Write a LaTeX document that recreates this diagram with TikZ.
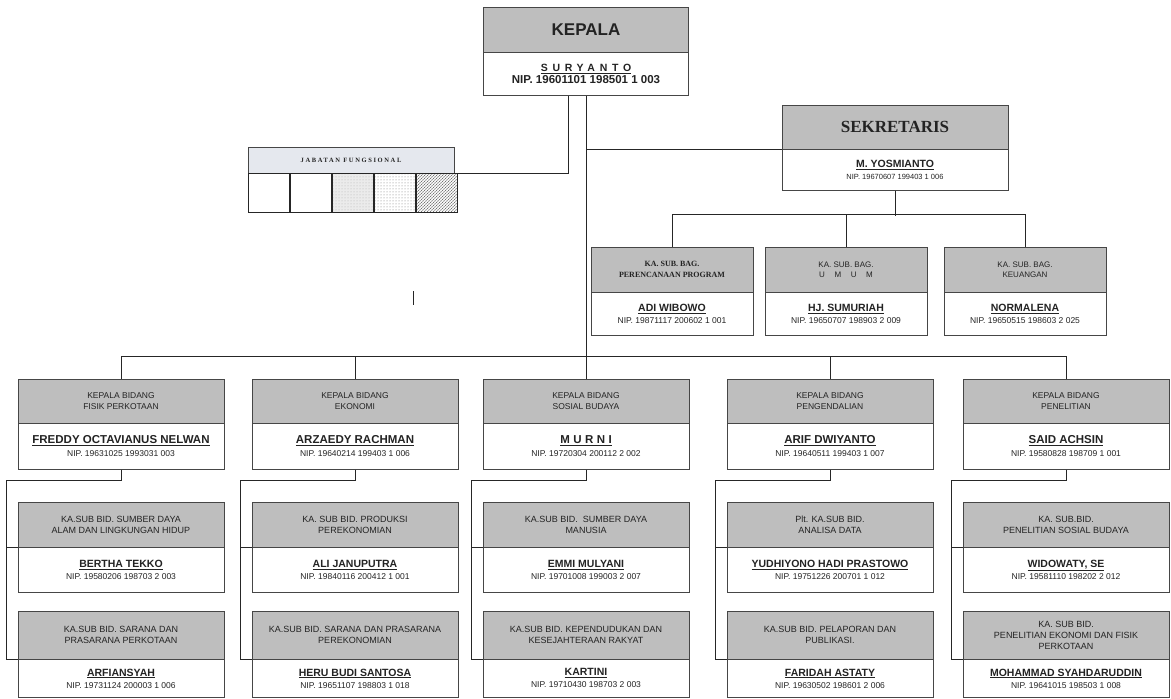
\documentclass[tikz,border=0pt]{standalone}
\usepackage{fontspec}
\setmainfont{Liberation Sans}
\newfontfamily\timesfont{Liberation Serif}
\usetikzlibrary{positioning,patterns}

\definecolor{headgray}{RGB}{190,190,190}
\definecolor{jabgray}{RGB}{229,232,238}
\definecolor{boxline}{RGB}{70,70,70}
\definecolor{inkgray}{RGB}{35,35,35}
\newcommand{\nipfont}{\mdseries\fontsize{8.5}{10}\selectfont}

\begin{document}
\begin{tikzpicture}[x=1pt, y=-1pt, every node/.style={text=inkgray}]

    % Styles
    \tikzstyle{kepalahead} = [rectangle, minimum width=205pt, minimum height=45pt, inner sep=0pt, align=center, draw=boxline, fill=headgray, font=\bfseries\fontsize{17}{20}\selectfont]
    \tikzstyle{kepalabody} = [rectangle, minimum width=205pt, minimum height=43pt, inner sep=0pt, align=center, draw=boxline, fill=white, font=\bfseries\fontsize{10.5}{12.5}\selectfont]
    \tikzstyle{sekhead} = [rectangle, minimum width=226pt, minimum height=44pt, inner sep=0pt, align=center, draw=boxline, fill=headgray, font=\timesfont\bfseries\fontsize{17}{20}\selectfont]
    \tikzstyle{sekbody} = [rectangle, minimum width=226pt, minimum height=41pt, inner sep=0pt, align=center, draw=boxline, fill=white, font=\bfseries\fontsize{10.5}{12}\selectfont]
    \tikzstyle{baghead} = [rectangle, minimum width=162pt, minimum height=45pt, inner sep=0pt, align=center, draw=boxline, fill=headgray, font=\fontsize{8}{10.5}\selectfont]
    \tikzstyle{bagbody} = [rectangle, minimum width=162pt, minimum height=43pt, inner sep=0pt, align=center, draw=boxline, fill=white, font=\bfseries\fontsize{10.5}{12}\selectfont]
    \tikzstyle{bidhead} = [rectangle, minimum width=206pt, minimum height=44pt, inner sep=0pt, align=center, draw=boxline, fill=headgray, font=\fontsize{8.5}{10.5}\selectfont]
    \tikzstyle{bidbody} = [rectangle, minimum width=206pt, minimum height=46pt, inner sep=0pt, align=center, draw=boxline, fill=white, font=\bfseries\fontsize{11.5}{13}\selectfont]
    \tikzstyle{subhead} = [rectangle, minimum width=206pt, minimum height=45pt, inner sep=0pt, align=center, draw=boxline, fill=headgray, font=\fontsize{9}{11}\selectfont]
    \tikzstyle{subbody} = [rectangle, minimum width=206pt, minimum height=45pt, inner sep=0pt, align=center, draw=boxline, fill=white, font=\bfseries\fontsize{10.5}{12}\selectfont]
    \tikzstyle{jabhead} = [rectangle, minimum width=206pt, minimum height=26pt, inner sep=0pt, draw=boxline, fill=jabgray, font=\timesfont\bfseries\fontsize{6.5}{7.5}\selectfont]
    \tikzstyle{cell} = [rectangle, minimum width=41.2pt, minimum height=39pt, inner sep=0pt, draw=black!85, line width=0.9pt]
    \tikzstyle{link} = [draw=black!85, line width=0.9pt]

    \useasboundingbox (0,0) rectangle (1171,699);

    % Kepala and Sekretaris
    \node (kepalaH) [kepalahead] at (586,29.5) {KEPALA};
    \node (kepala) [kepalabody, below=0pt of kepalaH] {\underline{\addfontfeatures{LetterSpace=45}SURYANTO}\\ \fontsize{11.5}{13}\selectfont NIP. 19601101 198501 1 003};
    \node (sekH) [sekhead] at (895,127) {SEKRETARIS};
    \node (sekretaris) [sekbody, below=0pt of sekH] {\underline{M. YOSMIANTO}\\ \mdseries\fontsize{7.5}{9}\selectfont NIP. 19670607 199403 1 006};

    % Jabatan fungsional
    \node (jabH) [jabhead] at (351,160) {\addfontfeatures{LetterSpace=25}JABATAN FUNGSIONAL};
    \node (cell1) [cell, anchor=north west] at (jabH.south west) {};
    \node (cell2) [cell, right=0pt of cell1] {};
    \node (cell3) [cell, right=0pt of cell2, preaction={fill=black!8}, pattern=dots, pattern color=black!30] {};
    \node (cell4) [cell, right=0pt of cell3, pattern=dots, pattern color=black!55] {};
    \node (cell5) [cell, right=0pt of cell4, preaction={pattern=north east lines, pattern color=black!35}, pattern=crosshatch dots, pattern color=black!60] {};

    % Sub bagian
    \node (bag1H) [baghead] at (672,269.5) {\timesfont\bfseries KA. SUB. BAG.\\ \timesfont\bfseries PERENCANAAN PROGRAM};
    \node (bag1) [bagbody, below=0pt of bag1H] {\underline{ADI WIBOWO}\\ \nipfont NIP. 19871117 200602 1 001};
    \node (bag2H) [baghead] at (846,269.5) {KA. SUB. BAG.\\ \addfontfeatures{LetterSpace=120}UMUM};
    \node (bag2) [bagbody, below=0pt of bag2H] {\underline{HJ. SUMURIAH}\\ \nipfont NIP. 19650707 198903 2 009};
    \node (bag3H) [baghead] at (1025,269.5) {KA. SUB. BAG.\\ KEUANGAN};
    \node (bag3) [bagbody, below=0pt of bag3H] {\underline{NORMALENA}\\ \nipfont NIP. 19650515 198603 2 025};

    % Kepala bidang
    \node (bid1H) [bidhead] at (121,401) {KEPALA BIDANG\\ FISIK PERKOTAAN};
    \node (bid1) [bidbody, below=0pt of bid1H] {\underline{FREDDY OCTAVIANUS NELWAN}\\ \nipfont NIP. 19631025 1993031 003};
    \node (bid2H) [bidhead] at (355,401) {KEPALA BIDANG\\ EKONOMI};
    \node (bid2) [bidbody, below=0pt of bid2H] {\underline{ARZAEDY RACHMAN}\\ \nipfont NIP. 19640214 199403 1 006};
    \node (bid3H) [bidhead] at (586,401) {KEPALA BIDANG\\ SOSIAL BUDAYA};
    \node (bid3) [bidbody, below=0pt of bid3H] {\underline{\addfontfeatures{LetterSpace=30}MURNI}\\ \nipfont NIP. 19720304 200112 2 002};
    \node (bid4H) [bidhead] at (830,401) {KEPALA BIDANG\\ PENGENDALIAN};
    \node (bid4) [bidbody, below=0pt of bid4H] {\underline{ARIF DWIYANTO}\\ \nipfont NIP. 19640511 199403 1 007};
    \node (bid5H) [bidhead] at (1066,401) {KEPALA BIDANG\\ PENELITIAN};
    \node (bid5) [bidbody, below=0pt of bid5H] {\underline{SAID ACHSIN}\\ \nipfont NIP. 19580828 198709 1 001};

    % Sub bidang, first row
    \node (sub11H) [subhead] at (121,524.5) {KA.SUB BID. SUMBER DAYA\\ ALAM DAN LINGKUNGAN HIDUP};
    \node (sub11) [subbody, below=0pt of sub11H] {\underline{BERTHA TEKKO}\\ \nipfont NIP. 19580206 198703 2 003};
    \node (sub21H) [subhead] at (355,524.5) {KA. SUB BID. PRODUKSI\\ PEREKONOMIAN};
    \node (sub21) [subbody, below=0pt of sub21H] {\underline{ALI JANUPUTRA}\\ \nipfont NIP. 19840116 200412 1 001};
    \node (sub31H) [subhead] at (586,524.5) {KA.SUB BID.\ \ SUMBER DAYA\\ MANUSIA};
    \node (sub31) [subbody, below=0pt of sub31H] {\underline{EMMI MULYANI}\\ \nipfont NIP. 19701008 199003 2 007};
    \node (sub41H) [subhead] at (830,524.5) {Plt. KA.SUB BID.\\ ANALISA DATA};
    \node (sub41) [subbody, below=0pt of sub41H] {\underline{YUDHIYONO HADI PRASTOWO}\\ \nipfont NIP. 19751226 200701 1 012};
    \node (sub51H) [subhead] at (1066,524.5) {KA. SUB.BID.\\ PENELITIAN SOSIAL BUDAYA};
    \node (sub51) [subbody, below=0pt of sub51H] {\underline{WIDOWATY, SE}\\ \nipfont NIP. 19581110 198202 2 012};

    % Sub bidang, second row
    \node (sub12H) [subhead, minimum height=48pt] at (121,635) {KA.SUB BID. SARANA DAN\\ PRASARANA PERKOTAAN};
    \node (sub12) [subbody, minimum height=38pt, below=0pt of sub12H] {\underline{ARFIANSYAH}\\ \nipfont NIP. 19731124 200003 1 006};
    \node (sub22H) [subhead, minimum height=48pt] at (355,635) {KA.SUB BID. SARANA DAN PRASARANA\\ PEREKONOMIAN};
    \node (sub22) [subbody, minimum height=38pt, below=0pt of sub22H] {\underline{HERU BUDI SANTOSA}\\ \nipfont NIP. 19651107 198803 1 018};
    \node (sub32H) [subhead, minimum height=48pt] at (586,635) {KA.SUB BID. KEPENDUDUKAN DAN\\ KESEJAHTERAAN RAKYAT};
    \node (sub32) [subbody, minimum height=38pt, below=0pt of sub32H] {\underline{KARTINI}\\ \nipfont NIP. 19710430 198703 2 003};
    \node (sub42H) [subhead, minimum height=48pt] at (830,635) {KA.SUB BID. PELAPORAN DAN\\ PUBLIKASI.};
    \node (sub42) [subbody, minimum height=38pt, below=0pt of sub42H] {\underline{FARIDAH ASTATY}\\ \nipfont NIP. 19630502 198601 2 006};
    \node (sub52H) [subhead, minimum height=48pt] at (1066,635) {KA. SUB BID.\\ PENELITIAN EKONOMI DAN FISIK\\ PERKOTAAN};
    \node (sub52) [subbody, minimum height=38pt, below=0pt of sub52H] {\underline{MOHAMMAD SYAHDARUDDIN}\\ \nipfont NIP. 19641015 198503 1 008};

    % Connectors
    \draw [link] (kepala.south) -- (bid3H.north);
    \draw [link] (jabH.south east) -| ([xshift=-18pt]kepala.south);
    \draw [link] (sekretaris.north west) -- (sekretaris.north west -| kepala.south);
    \draw [link] (sekretaris.south) -- ++(0,25);
    \draw [link] (bag1H.north) -- ++(0,-32) -| (bag3H.north);
    \draw [link] (bag2H.north) -- ++(0,-32);
    \draw [link] (bid1H.north) -- ++(0,-22) -| (bid5H.north);
    \draw [link] (bid2H.north) -- ++(0,-22);
    \draw [link] (bid4H.north) -- ++(0,-22);
    \draw [link] (bid1.south) -- ++(0,11) -| ([xshift=-11pt]sub12.north west) -- (sub12.north west);
    \draw [link] ([xshift=-11pt]sub11.north west) -- (sub11.north west);
    \draw [link] (bid2.south) -- ++(0,11) -| ([xshift=-11pt]sub22.north west) -- (sub22.north west);
    \draw [link] ([xshift=-11pt]sub21.north west) -- (sub21.north west);
    \draw [link] (bid3.south) -- ++(0,11) -| ([xshift=-11pt]sub32.north west) -- (sub32.north west);
    \draw [link] ([xshift=-11pt]sub31.north west) -- (sub31.north west);
    \draw [link] (bid4.south) -- ++(0,11) -| ([xshift=-11pt]sub42.north west) -- (sub42.north west);
    \draw [link] ([xshift=-11pt]sub41.north west) -- (sub41.north west);
    \draw [link] (bid5.south) -- ++(0,11) -| ([xshift=-11pt]sub52.north west) -- (sub52.north west);
    \draw [link] ([xshift=-11pt]sub51.north west) -- (sub51.north west);
    \draw [link] (413,291) -- (413,305);

\end{tikzpicture}
\end{document}
